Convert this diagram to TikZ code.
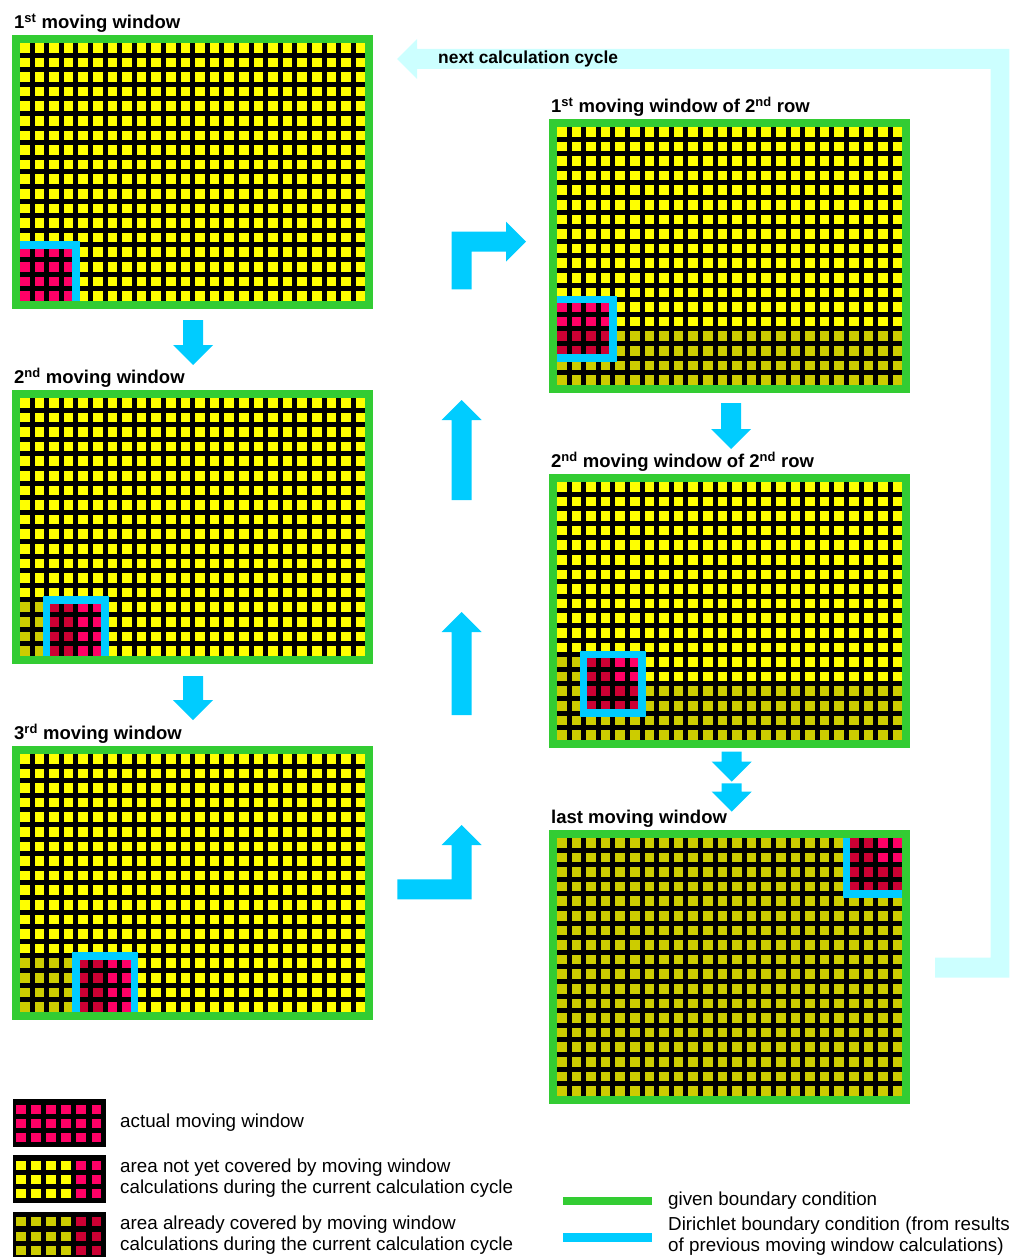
\documentclass[tikz,border=0pt]{standalone}
\usepackage{fontspec}
\setmainfont{Liberation Sans}
\usetikzlibrary{positioning}
\definecolor{cyel}{HTML}{FFFF00}
\definecolor{colive}{HTML}{CCCC00}
\definecolor{cred}{HTML}{FF0066}
\definecolor{cdred}{HTML}{CC0033}
\definecolor{cgreen}{HTML}{33CC33}
\definecolor{ccyan}{HTML}{00CCFF}
\definecolor{clcyan}{HTML}{CCFFFF}
\newcommand{\sqinx}{0.17}
\newcommand{\sqiny}{0.17}
\newcommand{\sqsz}{0.66}
% one block of grid squares: cols #1..#2, rows #3..#4
\newcommand{\cellblock}[5]{%
  \foreach \cc in {#1,...,#2}{\foreach \rr in {#3,...,#4}{%
    \fill[#5] (\cc+\sqinx,\rr+\sqiny) rectangle ++(\sqsz,\sqsz);}}}
\newcommand{\basegrid}[1]{%
  \fill[black] (-0.377,-0.377) rectangle (24.377,18.377);
  \cellblock{0}{23}{0}{17}{#1}}
\newcommand{\blkdown}[3]{\fill[blkarr] (#1-10,#2) -- (#1+10,#2) -- (#1+10,#3-20)
  -- (#1+20,#3-20) -- (#1,#3) -- (#1-20,#3-20) -- (#1-10,#3-20) -- cycle;}
\newcommand{\blkup}[3]{\fill[blkarr] (#1-10,#3) -- (#1+10,#3) -- (#1+10,#2+20)
  -- (#1+20,#2+20) -- (#1,#2) -- (#1-20,#2+20) -- (#1-10,#2+20) -- cycle;}
\tikzset{
  given/.style={draw=cgreen,line width=8pt},
  dirbc/.style={draw=ccyan,line width=7.5pt,line join=miter},
  blkarr/.style={fill=ccyan},
  retarr/.style={fill=clcyan},
  ptitle/.style={font=\bfseries\fontsize{18.5}{20}\selectfont,anchor=base west,inner sep=0pt},
  legtext/.style={font=\fontsize{18.8}{20.8}\selectfont,anchor=west,align=left,inner sep=0pt},
  panel/.style 2 args={shift={(#1+5.5,#2+5.5)},x=14.6pt,y=-14.6pt},
}
\begin{document}
\begin{tikzpicture}[x=1pt,y=-1pt]
  \useasboundingbox (0,0) rectangle (1014,1257);

  % return arrow
  \fill[retarr] (935,957.7) -- (990.7,957.7) -- (990.7,69) -- (417,69) -- (417,79)
    -- (397,59) -- (417,39) -- (417,49) -- (1009.3,49) -- (1009.3,977.7)
    -- (935,977.7) -- cycle;
  \node[ptitle,anchor=west,font=\bfseries\fontsize{17.4}{19}\selectfont] (cyc) at (438,59) {next calculation cycle};

  % 1st moving window
  \begin{scope}[panel={12}{35}]
    \basegrid{cyel}
    \cellblock{0}{3}{14}{17}{cred}
    \draw[dirbc] (-0.3,14) -| (4,18.3);
    \draw[given] (-0.103,-0.103) rectangle (24.103,18.103);
    \node[ptitle] (t1) at (-0.24,-0.79) {1\textsuperscript{st} moving window};
  \end{scope}

  % 2nd moving window
  \begin{scope}[panel={12}{390}]
    \basegrid{cyel}
    \cellblock{0}{1}{14}{17}{colive}
    \cellblock{2}{3}{14}{17}{cdred}
    \cellblock{4}{5}{14}{17}{cred}
    \draw[dirbc] (2,18.3) |- (6,14) -- (6,18.3);
    \draw[given] (-0.103,-0.103) rectangle (24.103,18.103);
    \node[ptitle] (t2) at (-0.24,-0.79) {2\textsuperscript{nd} moving window};
  \end{scope}

  % 3rd moving window
  \begin{scope}[panel={12}{746}]
    \basegrid{cyel}
    \cellblock{0}{3}{14}{17}{colive}
    \cellblock{4}{5}{14}{17}{cdred}
    \cellblock{6}{7}{14}{17}{cred}
    \draw[dirbc] (4,18.3) |- (8,14) -- (8,18.3);
    \draw[given] (-0.103,-0.103) rectangle (24.103,18.103);
    \node[ptitle] (t3) at (-0.24,-0.79) {3\textsuperscript{rd} moving window};
  \end{scope}

  % 1st window of 2nd row
  \begin{scope}[panel={549}{119}]
    \basegrid{cyel}
    \cellblock{0}{23}{14}{17}{colive}
    \cellblock{0}{3}{12}{13}{cred}
    \cellblock{0}{3}{14}{15}{cdred}
    \draw[dirbc] (-0.3,12) -| (4,16) -- (-0.3,16);
    \draw[given] (-0.103,-0.103) rectangle (24.103,18.103);
    \node[ptitle] (t4) at (-0.24,-0.79) {1\textsuperscript{st} moving window of 2\textsuperscript{nd} row};
  \end{scope}

  % 2nd window of 2nd row
  \begin{scope}[panel={549}{474}]
    \basegrid{cyel}
    \cellblock{0}{23}{14}{17}{colive}
    \cellblock{0}{1}{12}{13}{colive}
    \cellblock{2}{3}{12}{13}{cdred}
    \cellblock{4}{5}{12}{13}{cred}
    \cellblock{2}{5}{14}{15}{cdred}
    \draw[dirbc] (2,12) rectangle (6,16);
    \draw[given] (-0.103,-0.103) rectangle (24.103,18.103);
    \node[ptitle] (t5) at (-0.24,-0.79) {2\textsuperscript{nd} moving window of 2\textsuperscript{nd} row};
  \end{scope}

  % last moving window
  \begin{scope}[panel={549}{830}]
    \basegrid{colive}
    \cellblock{20}{21}{0}{3}{cdred}
    \cellblock{22}{23}{2}{3}{cdred}
    \cellblock{22}{23}{0}{1}{cred}
    \draw[dirbc] (20,-0.3) |- (24.3,4);
    \draw[given] (-0.103,-0.103) rectangle (24.103,18.103);
    \node[ptitle] (t6) at (-0.24,-0.79) {last moving window};
  \end{scope}

  % block arrows
  \blkdown{193}{320}{365}
  \blkdown{193}{676}{720}
  \blkdown{731}{403}{449}
  \blkdown{731.7}{751.7}{781.7}
  \blkdown{731.7}{783.3}{811.7}
  \blkup{461.7}{400}{500}
  \blkup{461.7}{612}{715}
  \fill[blkarr] (451.7,289.3) -- (451.7,231.7) -- (506,231.7) -- (506,221.7)
    -- (526,241.7) -- (506,261.7) -- (506,251.7) -- (471.7,251.7)
    -- (471.7,289.3) -- cycle;
  \fill[blkarr] (397.3,879.3) -- (451.7,879.3) -- (451.7,845) -- (441.7,845)
    -- (461.7,825) -- (481.7,845) -- (471.7,845) -- (471.7,899.3)
    -- (397.3,899.3) -- cycle;

  % legend
  \foreach \ly/\ca/\cb in {1099.3/cred/cred, 1155/cyel/cred, 1211.7/colive/cdred}{
    \begin{scope}[shift={(12.7,\ly)},x=15.1pt,y=-14.2pt]
      \def\sqinx{0.22}\def\sqiny{0.4}\def\sqsz{0.64}
      \fill[black] (0,0) rectangle (6.18,3.38);
      \cellblock{0}{3}{0}{2}{\ca}
      \cellblock{4}{5}{0}{2}{\cb}
    \end{scope}
  }
  \node[legtext] (l1) at (120,1123) {actual moving window};
  \node[legtext] (l2) at (120,1178) {area not yet covered by moving window\\calculations during the current calculation cycle};
  \node[legtext] (l3) at (120,1235) {area already covered by moving window\\calculations during the current calculation cycle};
  \draw[given] (563,1201) -- (652,1201);
  \draw[dirbc,line width=9pt] (563,1237.8) -- (652,1237.8);
  \node[legtext] (l4) at (668,1201) {given boundary condition};
  \node[legtext] (l5) at (668,1236) {Dirichlet boundary condition (from results\\of previous moving window calculations)};
\end{tikzpicture}
\end{document}
